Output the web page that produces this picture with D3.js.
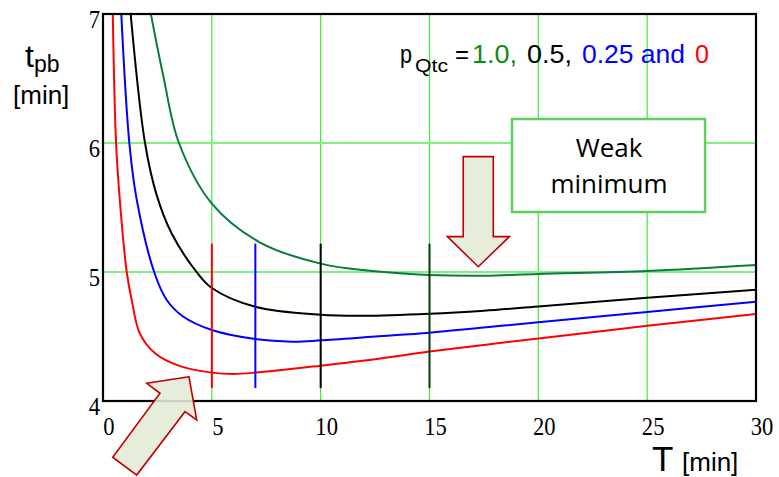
<!DOCTYPE html>
<html>
<head>
<meta charset="utf-8">
<script src="https://cdn.jsdelivr.net/npm/d3@7"></script>
<style>
  html, body { margin: 0; padding: 0; background: #fff; }
  svg { display: block; }
</style>
</head>
<body>
<div id="chart"></div>
<script>
// Curve data: T [min] and t_pb [min]
const redT = [0.45, 0.6, 0.8, 1.09, 1.32, 1.7, 2.39, 3.54, 5, 6, 7, 10, 12.5, 15, 17.5, 20, 25, 30];
const redV = [7.0, 6.0, 5.5, 5.0, 4.78, 4.52, 4.37, 4.27, 4.22, 4.21, 4.22, 4.274, 4.324, 4.383, 4.435, 4.484, 4.583, 4.674];

const blueT = [0.84, 1.21, 1.55, 2.35, 2.92, 3.68, 5, 7, 8.7, 10, 12.5, 15, 17.5, 20, 25, 30];
const blueV = [7.0, 6.0, 5.56, 5.0, 4.785, 4.655, 4.55, 4.48, 4.46, 4.47, 4.50, 4.53, 4.57, 4.61, 4.69, 4.77];

const blackT = [1.27, 1.93, 2.46, 3.15, 4.3, 5, 7, 10, 12, 15, 17.5, 20, 25, 30];
const blackV = [7.0, 6.0, 5.6, 5.30, 5.0, 4.876, 4.73, 4.668, 4.66, 4.676, 4.70, 4.733, 4.80, 4.862];

const greenT = [2.2, 2.77, 3.49, 5, 7.2, 10, 12.5, 15, 17.5, 20, 25, 30];
const greenV = [7.0, 6.52, 6.0, 5.53, 5.23, 5.065, 5.005, 4.977, 4.971, 4.985, 5.008, 5.054];

// Optimum markers (T) and their span in t
const markerT = [5, 7, 10, 15];
const markerColors = ["#ff0000", "#0000ff", "#000000", "#0b3d12"];
const markerSpan = [4.10, 5.22];

// Tick labels
const xTicks = [0, 5, 10, 15, 20, 25, 30];
const yTicks = [4, 5, 6, 7];

const series = [
  { name: "1.0", color: "#0b7a3e", T: greenT, v: greenV },
  { name: "0.5", color: "#000000", T: blackT, v: blackV },
  { name: "0.25", color: "#0000ff", T: blueT, v: blueV },
  { name: "0", color: "#ff0000", T: redT, v: redV }
];

const width = 779, height = 477;

const svg = d3.select("#chart").append("svg")
  .attr("width", width)
  .attr("height", height)
  .style("font-family", "'Liberation Sans', Arial, sans-serif");

svg.append("rect").attr("width", width).attr("height", height).attr("fill", "#fff");

const x = d3.scaleLinear().domain([0, 30]).range([103, 756]);
const y = d3.scaleLinear().domain([4, 7]).range([401, 14]);

svg.append("defs").append("clipPath").attr("id", "plot-clip")
  .append("rect")
  .attr("x", x(0)).attr("y", y(7))
  .attr("width", x(30) - x(0)).attr("height", y(4) - y(7));

// Grid
const grid = svg.append("g").attr("class", "grid");
grid.selectAll("line.vx")
  .data(xTicks.filter(d => d > 0 && d < 30))
  .join("line")
  .attr("class", "vx")
  .attr("x1", d => x(d)).attr("x2", d => x(d))
  .attr("y1", y(7)).attr("y2", y(4))
  .attr("stroke", "#33ee33")
  .attr("stroke-width", 1.2);

grid.selectAll("line.hy")
  .data(yTicks.filter(d => d > 4 && d < 7))
  .join("line")
  .attr("class", "hy")
  .attr("x1", x(0)).attr("x2", x(30))
  .attr("y1", d => y(d)).attr("y2", d => y(d))
  .attr("stroke", "#7ef27e")
  .attr("stroke-width", 2);

// Curves
const line = d3.line()
  .x(d => x(d[0]))
  .y(d => y(d[1]))
  .curve(d3.curveCatmullRom.alpha(0.5));

svg.append("g")
  .attr("clip-path", "url(#plot-clip)")
  .selectAll("path")
  .data(series)
  .join("path")
  .attr("d", s => line(s.T.map((t, i) => [t, s.v[i]])))
  .attr("fill", "none")
  .attr("stroke", s => s.color)
  .attr("stroke-width", 2);

// Vertical optimum markers
svg.append("g")
  .selectAll("line")
  .data(markerT)
  .join("line")
  .attr("x1", d => x(d)).attr("x2", d => x(d))
  .attr("y1", y(markerSpan[1])).attr("y2", y(markerSpan[0]))
  .attr("stroke", (d, i) => markerColors[i])
  .attr("stroke-width", 2);

// Frame
svg.append("rect")
  .attr("x", x(0)).attr("y", y(7))
  .attr("width", x(30) - x(0)).attr("height", y(4) - y(7))
  .attr("fill", "none")
  .attr("stroke", "#000")
  .attr("stroke-width", 2.2);

// Tick labels (serif, slightly condensed like the original)
svg.append("g")
  .selectAll("text")
  .data(xTicks)
  .join("text")
  .attr("x", d => x(d) + 6)
  .attr("y", 435)
  .attr("text-anchor", "middle")
  .attr("font-family", "'Liberation Serif', 'Times New Roman', serif")
  .attr("font-size", 25)
  .attr("textLength", d => String(d).length * 11.3)
  .attr("lengthAdjust", "spacingAndGlyphs")
  .text(d => d);

svg.append("g")
  .selectAll("text")
  .data(yTicks)
  .join("text")
  .attr("x", 100)
  .attr("y", d => y(d) + 14)
  .attr("text-anchor", "end")
  .attr("font-family", "'Liberation Serif', 'Times New Roman', serif")
  .attr("font-size", 25)
  .attr("textLength", 11.3)
  .attr("lengthAdjust", "spacingAndGlyphs")
  .text(d => d);

// Axis titles
const yTitle = svg.append("text").attr("fill", "#000");
yTitle.append("tspan").attr("x", 25).attr("y", 67).attr("font-size", 32).text("t");
yTitle.append("tspan").attr("x", 34).attr("y", 72).attr("font-size", 23).text("pb");
svg.append("text").attr("x", 13).attr("y", 104).attr("font-size", 26).text("[min]");

const xTitle = svg.append("text").attr("fill", "#000");
xTitle.append("tspan").attr("x", 652).attr("y", 471).attr("font-size", 35).text("T");
xTitle.append("tspan").attr("x", 682).attr("y", 471).attr("font-size", 26).text("[min]");

// Legend line
const legendParts = [
  { text: "p", x: 400, y: 63, size: 25, len: 12, color: "#000" },
  { text: "Qtc", x: 415, y: 72, size: 18, len: 33, color: "#000" },
  { text: "=", x: 455, y: 63, size: 25, len: 14, color: "#000" },
  { text: "1.0,", x: 472, y: 63, size: 25, len: 45, color: "#118a11" },
  { text: "0.5,", x: 527, y: 63, size: 25, len: 45, color: "#000" },
  { text: "0.25 and", x: 582, y: 63, size: 25, len: 103, color: "#0000ff" },
  { text: "0", x: 695, y: 63, size: 25, len: 14, color: "#ff0000" }
];
svg.append("g")
  .selectAll("text")
  .data(legendParts)
  .join("text")
  .attr("x", d => d.x)
  .attr("y", d => d.y)
  .attr("font-size", d => d.size)
  .attr("fill", d => d.color)
  .attr("textLength", d => d.len)
  .attr("lengthAdjust", "spacingAndGlyphs")
  .text(d => d.text);

// Annotation box
const box = { x0: 18.79, x1: 27.66, y0: 6.186, y1: 5.465 };
svg.append("rect")
  .attr("x", x(box.x0)).attr("y", y(box.y0))
  .attr("width", x(box.x1) - x(box.x0))
  .attr("height", y(box.y1) - y(box.y0))
  .attr("fill", "#fff")
  .attr("stroke", "#5fcf5f")
  .attr("stroke-width", 2.5);

const boxText = svg.append("g")
  .attr("font-family", "'Open Sans', 'Noto Sans', sans-serif")
  .attr("font-size", 26)
  .attr("text-anchor", "middle");
boxText.append("text").attr("x", 609).attr("y", 157).text("Weak");
boxText.append("text").attr("x", 609).attr("y", 193).text("minimum");

// Arrows (in data units)
const downArrow = [[16.55, 5.894], [17.93, 5.894], [17.93, 5.274], [18.67, 5.274],
  [17.24, 5.041], [15.82, 5.274], [16.55, 5.274]];
const upArrow = [[3.95, 4.188], [2.01, 4.137], [2.62, 4.060], [0.446, 3.564],
  [1.548, 3.426], [3.767, 3.917], [4.305, 3.853]];

svg.append("g")
  .selectAll("polygon")
  .data([downArrow, upArrow])
  .join("polygon")
  .attr("points", d => d.map(p => [x(p[0]), y(p[1])].join(",")).join(" "))
  .attr("fill", "#e4ebd6")
  .attr("fill-opacity", 0.88)
  .attr("stroke", "#c00000")
  .attr("stroke-width", 1.6)
  .attr("stroke-linejoin", "miter");
</script>
</body>
</html>
